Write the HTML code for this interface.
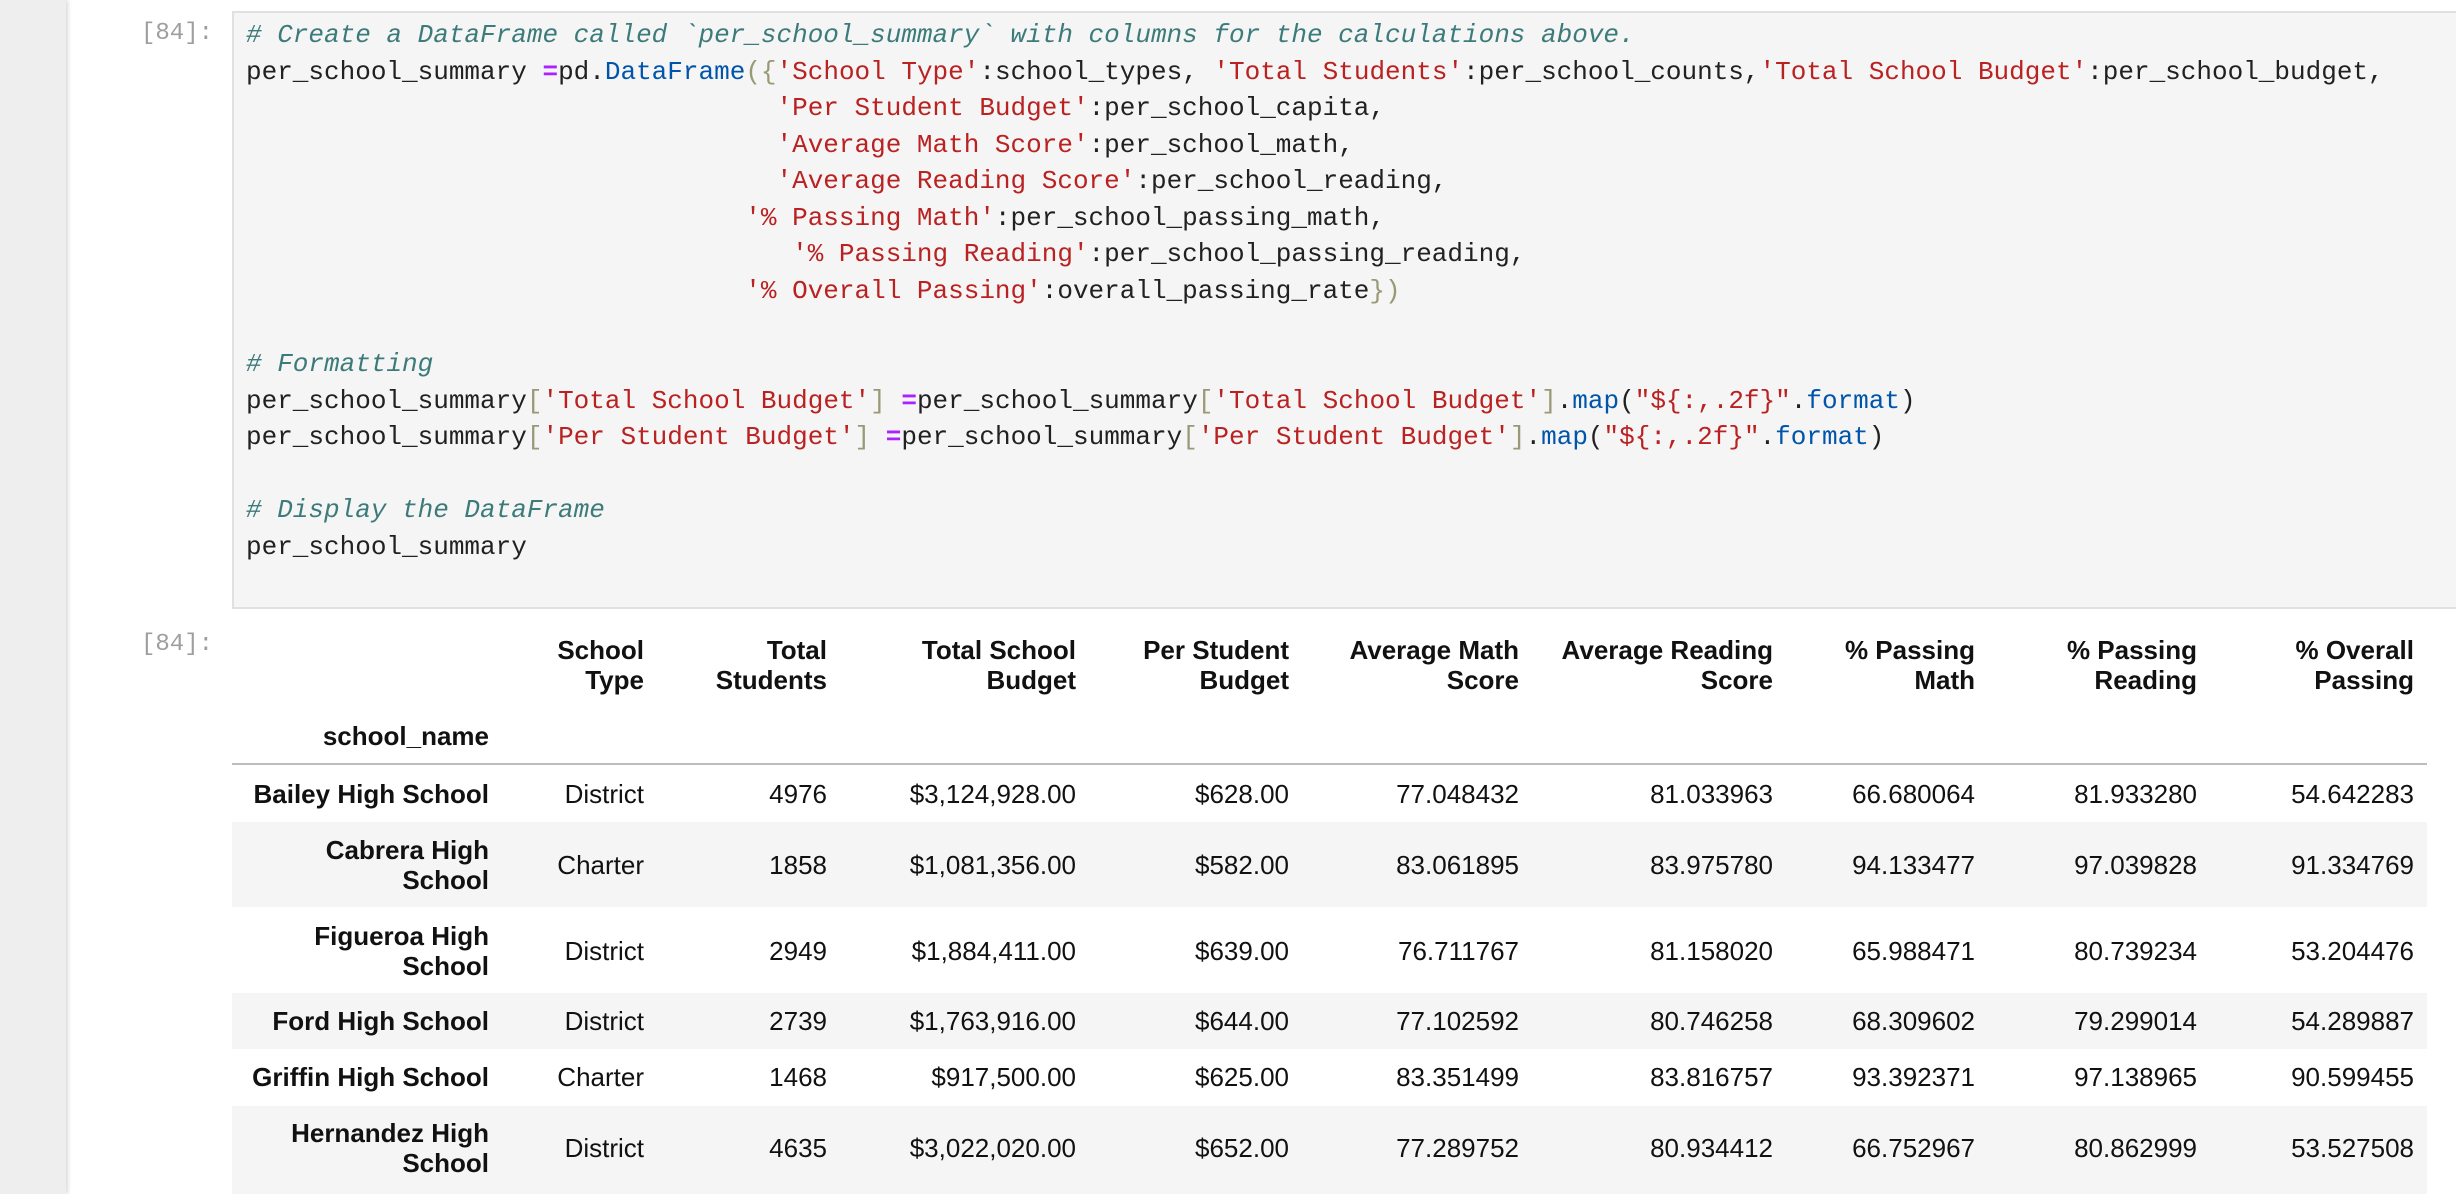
<!DOCTYPE html>
<html><head><meta charset="utf-8">
<style>
html,body{margin:0;padding:0;}
body{width:2456px;height:1194px;overflow:hidden;background:#fff;position:relative;font-family:"Liberation Sans",sans-serif;}
.side{position:absolute;left:0;top:0;width:66px;height:1194px;background:#eeeeee;box-shadow:2px 0 4px rgba(0,0,0,0.15);}
.prompt{position:absolute;font-family:"Liberation Mono",monospace;font-size:24px;color:#9e9e9e;}
.code{position:absolute;left:232px;top:11px;width:2240px;height:598px;background:#f5f5f5;border:2px solid #e0e0e0;box-sizing:border-box;}
.ln{position:absolute;left:246px;font-family:"Liberation Mono",monospace;font-size:26px;white-space:pre;color:#212121;line-height:36px;}
.c{color:#3d7b7b;font-style:italic}
.s{color:#ba2121}
.o{color:#aa22ff;font-weight:bold}
.f{color:#0055aa}
.b{color:#999977}
.stripe{position:absolute;left:232px;width:2195px;background:#f5f5f5;}
.t{position:absolute;font-size:26px;color:#111;text-align:right;line-height:30px;white-space:nowrap;transform:translateY(-50%);}
.h{font-weight:bold;}
</style></head><body>
<div class="side"></div>
<div class="prompt" style="left:141px;top:20px">[84]:</div>
<div class="code"></div>
<div class="ln" style="top:17px"><span class="c"># Create a DataFrame called `per_school_summary` with columns for the calculations above.</span></div>
<div class="ln" style="top:54px">per_school_summary <span class="o">=</span>pd.<span class="f">DataFrame</span><span class="b">({</span><span class="s">'School Type'</span>:school_types, <span class="s">'Total Students'</span>:per_school_counts,<span class="s">'Total School Budget'</span>:per_school_budget,</div>
<div class="ln" style="top:90px">                                  <span class="s">'Per Student Budget'</span>:per_school_capita,</div>
<div class="ln" style="top:127px">                                  <span class="s">'Average Math Score'</span>:per_school_math,</div>
<div class="ln" style="top:163px">                                  <span class="s">'Average Reading Score'</span>:per_school_reading,</div>
<div class="ln" style="top:200px">                                <span class="s">'% Passing Math'</span>:per_school_passing_math,</div>
<div class="ln" style="top:236px">                                   <span class="s">'% Passing Reading'</span>:per_school_passing_reading,</div>
<div class="ln" style="top:273px">                                <span class="s">'% Overall Passing'</span>:overall_passing_rate<span class="b">})</span></div>
<div class="ln" style="top:346px"><span class="c"># Formatting</span></div>
<div class="ln" style="top:383px">per_school_summary<span class="b">[</span><span class="s">'Total School Budget'</span><span class="b">]</span> <span class="o">=</span>per_school_summary<span class="b">[</span><span class="s">'Total School Budget'</span><span class="b">]</span>.<span class="f">map</span>(<span class="s">"${:,.2f}"</span>.<span class="f">format</span>)</div>
<div class="ln" style="top:419px">per_school_summary<span class="b">[</span><span class="s">'Per Student Budget'</span><span class="b">]</span> <span class="o">=</span>per_school_summary<span class="b">[</span><span class="s">'Per Student Budget'</span><span class="b">]</span>.<span class="f">map</span>(<span class="s">"${:,.2f}"</span>.<span class="f">format</span>)</div>
<div class="ln" style="top:492px"><span class="c"># Display the DataFrame</span></div>
<div class="ln" style="top:529px">per_school_summary</div>

<div class="prompt" style="left:141px;top:631px">[84]:</div>

<div class="stripe" style="top:822px;height:85px"></div>
<div class="stripe" style="top:993px;height:56px"></div>
<div class="stripe" style="top:1106px;height:88px"></div>
<div style="position:absolute;left:232px;top:763px;width:2195px;height:2px;background:#bdbdbd"></div>

<div id="tbl"></div>
<script>
const edges=[489,644,827,1076,1289,1519,1773,1975,2197,2414];
const headers=["","School<br>Type","Total<br>Students","Total School<br>Budget","Per Student<br>Budget","Average Math<br>Score","Average Reading<br>Score","% Passing<br>Math","% Passing<br>Reading","% Overall<br>Passing"];
const schools=["Bailey High School","Cabrera High<br>School","Figueroa High<br>School","Ford High School","Griffin High School","Hernandez High<br>School"];
const types=["District","Charter","District","District","Charter","District"];
const students=["4976","1858","2949","2739","1468","4635"];
const budgets=["$3,124,928.00","$1,081,356.00","$1,884,411.00","$1,763,916.00","$917,500.00","$3,022,020.00"];
const perStudent=["$628.00","$582.00","$639.00","$644.00","$625.00","$652.00"];
const mathScore=["77.048432","83.061895","76.711767","77.102592","83.351499","77.289752"];
const readScore=["81.033963","83.975780","81.158020","80.746258","83.816757","80.934412"];
const passMath=["66.680064","94.133477","65.988471","68.309602","93.392371","66.752967"];
const passRead=["81.933280","97.039828","80.739234","79.299014","97.138965","80.862999"];
const overall=["54.642283","91.334769","53.204476","54.289887","90.599455","53.527508"];
const rowY=[794,865,951,1021,1077,1148];
const root=document.getElementById('tbl');
function put(html,right,y,bold,name){
  const d=document.createElement('div');
  d.className='t'+(bold?' h':'');
  d.style.right=(2456-right)+'px';
  d.style.top=y+'px';
  d.innerHTML=html;
  
  
  root.appendChild(d);
}
for(let i=1;i<headers.length;i++){put(headers[i],edges[i],665,true,'column-header');}
put("school_name",edges[0],736,true,'index-header');
const cols=[types,students,budgets,perStudent,mathScore,readScore,passMath,passRead,overall];
for(let r=0;r<schools.length;r++){
  put(schools[r],edges[0],rowY[r],true,'row-label');
  for(let c=0;c<cols.length;c++){put(cols[c][r],edges[c+1],rowY[r],false,'table-cell');}
}
</script>
</body></html>
